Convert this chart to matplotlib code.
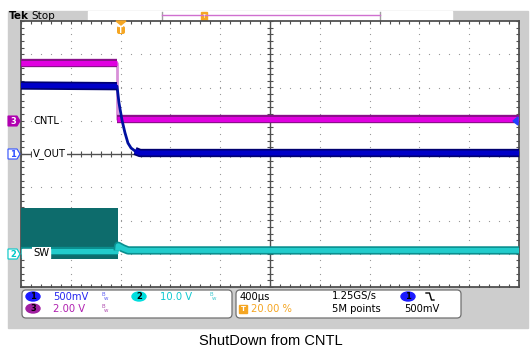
import numpy as np
import matplotlib.pyplot as plt
import matplotlib.patheffects as pe
from matplotlib.patches import Rectangle, FancyBboxPatch, Ellipse, Polygon

# scope setup: 400us/div, trigger at 20 % of the record
time_per_div = 400.0
trig_pos = 0.20
ch1_scale, ch1_pos = 0.5, 0.0     # V_OUT
ch2_scale, ch2_pos = 10.0, -3.0   # SW
ch3_scale, ch3_pos = 2.0, 1.0     # CNTL

# captured traces (time in us, level in V)
t_cntl = [-800, -28, -28, 3200]
v_cntl = [3.5, 3.5, 0.1, 0.1]

t_vout = [-800, -29, -13, 11, 35, 59, 84, 116, 156, 3200]
v_vout = [1.03, 1.02, 0.77, 0.51, 0.32, 0.165, 0.09, 0.045, 0.015, 0.015]

t_sw = [-800, -24, -20, 20, 60, 3200]
v_sw = [0.9, 0.9, 2.4, 1.6, 1.0, 1.0]

# switching burst envelope before shutdown
t_burst = [-800, -24]
burst_hi = 13.8
burst_lo = -1.6

W, H = 532, 352


def tdiv(t):
    return np.asarray(t, float) / time_per_div + 10 * trig_pos


def vdiv(v, scale, pos):
    return np.asarray(v, float) / scale + pos


def px_axes(z):
    a = fig.add_axes([0, 0, 1, 1], zorder=z)
    a.set_xlim(0, W)
    a.set_ylim(H, 0)
    a.axis('off')
    a.patch.set_alpha(0)
    return a


fig = plt.figure(figsize=(W / 100, H / 100), dpi=100)
fig.patch.set_facecolor('white')

bg = px_axes(0)
bg.add_patch(Rectangle((8, 11), 520, 317, color='#cdcdcd'))
bg.add_patch(Rectangle((88, 11), 364, 10, color='white'))
bg.plot([162, 162], [12, 20], color='#a0a0a0', lw=1)
bg.plot([380, 380], [12, 20], color='#a0a0a0', lw=1)
bg.plot([162, 380], [15, 15], color='#d070d0', lw=1)
bg.add_patch(Rectangle((201, 12), 6, 8, color='#f5a623'))
bg.text(204, 16.5, 'T', color='white', fontsize=4, ha='center', va='center')
bg.text(9, 16, 'Tek', fontsize=7.5, fontweight='bold', va='center')
bg.text(31, 16, 'Stop', fontsize=7.5, va='center')

# graticule
ax = fig.add_axes([21 / W, (H - 287) / H, 498 / W, 266 / H], zorder=1)
ax.set_xlim(0, 10)
ax.set_ylim(-4, 4)
ax.set_xticks([])
ax.set_yticks([])
for s in ax.spines.values():
    s.set_color('#505050')
    s.set_linewidth(1.3)

ys = np.arange(-4, 4.01, 0.2)
xs = np.arange(0, 10.01, 0.2)
for xi in [1, 2, 3, 4, 6, 7, 8, 9]:
    ax.plot(np.full_like(ys, xi), ys, ls='none', marker='s', ms=0.8, color='#9a9a9a', mew=0)
for yi in [-3, -2, -1, 1, 2, 3]:
    ax.plot(xs, np.full_like(xs, yi), ls='none', marker='s', ms=0.8, color='#9a9a9a', mew=0)
ax.axvline(5, color='#505050', lw=1)
ax.axhline(0, color='#505050', lw=1)
ax.plot(np.full_like(ys, 5), ys, ls='none', marker='_', ms=4, color='#505050', mew=0.8)
ax.plot(xs, np.zeros_like(xs), ls='none', marker='|', ms=4, color='#505050', mew=0.8)
ax.plot(np.zeros_like(ys), ys, ls='none', marker='_', ms=4, color='#505050', mew=0.8)
ax.plot(np.full_like(ys, 10), ys, ls='none', marker='_', ms=4, color='#505050', mew=0.8)
ax.plot(xs, np.full_like(xs, 4), ls='none', marker='|', ms=4, color='#505050', mew=0.8)
ax.plot(xs, np.full_like(xs, -4), ls='none', marker='|', ms=4, color='#505050', mew=0.8)

# traces
ax.fill_between(tdiv(t_burst), vdiv(burst_lo, ch2_scale, ch2_pos),
                vdiv(burst_hi, ch2_scale, ch2_pos), color='#0d6c6c', lw=0, zorder=3)


def band(x, y, inner, edge):
    # flat, noisy parts of a trace: bright core with darker rim
    ax.plot(x, y, color=inner, lw=3.6, zorder=4, solid_capstyle='butt',
            solid_joinstyle='round',
            path_effects=[pe.Stroke(linewidth=6.0, foreground=edge), pe.Normal()])


def trace(t, v, scale, pos, inner, edge, thin, flat_parts):
    x, y = tdiv(t), vdiv(v, scale, pos)
    ax.plot(x, y, color=thin, lw=2.0, zorder=4)
    for sl in flat_parts:
        band(x[sl], y[sl], inner, edge)


trace(t_sw, v_sw, ch2_scale, ch2_pos, '#22cccc', '#0a8f8f', '#22cccc',
      [slice(0, 2), slice(1, None)])
trace(t_cntl, v_cntl, ch3_scale, ch3_pos, '#e000e0', '#8a108a', '#d890d8',
      [slice(0, 2), slice(2, None)])
trace(t_vout, v_vout, ch1_scale, ch1_pos, '#0000c8', '#000070', '#0010a0',
      [slice(0, 2), slice(-3, None)])

# overlay: labels, markers, readouts
fg = px_axes(2)
lbl = dict(fontsize=7.2, va='center', ha='left', color='black',
           bbox=dict(fc='white', ec='none', pad=1.0))
fg.text(33, 121, 'CNTL', **lbl)
fg.text(33, 154, 'V_OUT', **lbl)
fg.add_patch(Rectangle((22, 249), 28, 9, color='white'))
fg.text(33, 253, 'SW', **lbl)


def ch_marker(y, num, face, edge, tc):
    fg.add_patch(Polygon([(8, y - 5), (17, y - 5), (20, y), (17, y + 5), (8, y + 5)],
                         closed=True, fc=face, ec=edge, lw=0.8))
    fg.text(13, y + 0.5, num, color=tc, fontsize=6, ha='center', va='center', fontweight='bold')


ch_marker(121, '3', '#b000b0', '#b000b0', 'white')
ch_marker(154, '1', 'white', '#3050ff', '#3050ff')
ch_marker(254, '2', 'white', '#00c8c8', '#00c8c8')

# trigger level and trigger position markers
fg.add_patch(Polygon([(513, 121), (518, 117), (518, 125)], closed=True, color='#2040ff'))
fg.add_patch(Polygon([(116, 21), (126, 21), (121, 25)], closed=True, color='#f5a623'))
fg.add_patch(FancyBboxPatch((117, 26), 8, 8, boxstyle='round,pad=0,rounding_size=2',
                            fc='#f5a623', ec='none'))
fg.text(121, 30.5, 'T', color='white', fontsize=5.5, ha='center', va='center', fontweight='bold')

# readout boxes
for x0, w in [(22, 210), (236, 225)]:
    fg.add_patch(FancyBboxPatch((x0, 290), w, 28, boxstyle='round,pad=0,rounding_size=4',
                                fc='white', ec='#707070', lw=0.9))

r1, r2 = 296.5, 308.5
rd = dict(fontsize=7.2, va='center', ha='left')


def badge(x, y, num, color):
    fg.add_patch(Ellipse((x, y), 14, 9, color=color))
    fg.text(x, y + 0.3, num, fontsize=6, ha='center', va='center', color='black', fontweight='bold')


def bw(x, y, color):
    fg.text(x, y - 1.5, 'B', fontsize=4, color=color, ha='left', va='center')
    fg.text(x + 3, y + 1.5, 'w', fontsize=4, color=color, ha='left', va='center')


badge(33, r1, '1', '#1a1aff')
fg.text(53, r1, '500mV', color='#2828f0', **rd)
bw(101, r1, '#6060f0')
badge(139, r1, '2', '#00dede')
fg.text(160, r1, '10.0 V', color='#10c8d0', **rd)
bw(209, r1, '#40c8d0')
badge(33, r2, '3', '#a020a0')
fg.text(53, r2, '2.00 V', color='#b020b0', **rd)
bw(101, r2, '#b050b0')

fg.text(240, r1, '400\u00b5s', color='black', **rd)
fg.add_patch(Rectangle((239, r2 - 4), 8, 8, color='#f5a623'))
fg.text(243, r2 + 0.3, 'T', color='white', fontsize=5, ha='center', va='center', fontweight='bold')
fg.text(251, r2, '20.00 %', color='#f5a623', **rd)
fg.text(332, r1, '1.25GS/s', color='black', **rd)
fg.text(332, r2, '5M points', color='black', **rd)
badge(408, r1, '1', '#1a1aff')
fg.plot([426, 429.5, 431.5, 434], [293, 293, 300, 300], color='black', lw=1)
fg.text(404, r2, '500mV', color='black', **rd)

fig.text(271 / W, 1 - 341 / H, 'ShutDown from CNTL', fontsize=10.5,
         family='Liberation Sans', ha='center', va='center')

fig.savefig('out.png', dpi=100)
